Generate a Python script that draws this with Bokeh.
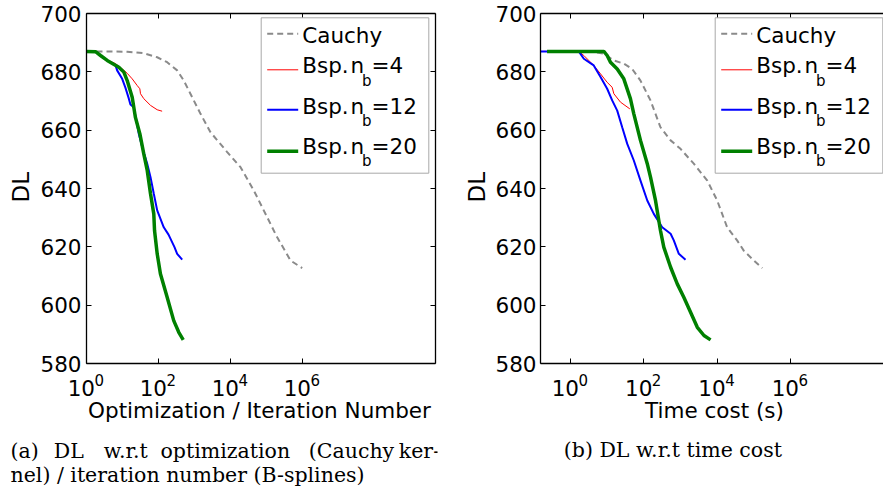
from math import pi
from bokeh.plotting import figure
from bokeh.models import (Range1d, FixedTicker, LinearAxis, LogAxis, Label,
                          BoxAnnotation, Arrow, CustomJSTickFormatter)
from bokeh.layouts import row
from bokeh.embed import file_html
from bokeh.resources import INLINE

# ---------------- data ----------------
y_ticks = [580, 600, 620, 640, 660, 680, 700]
x_tick_values = [1, 100, 1e4, 1e6]
x_tick_exponents = ["0", "2", "4", "6"]

# (a) DL vs optimization / iteration number
a_cauchy_x = [1, 4.6, 13.5, 39, 92, 174, 330, 505, 770, 1470, 2780, 8100, 19000,
              44500, 104000, 186000, 465000, 980000]
a_cauchy_y = [687.0, 687.0, 686.9, 686.4, 685.0, 683.3, 680.5, 677.0, 672.5, 665.6,
              659.3, 652.5, 647.3, 639.3, 630.2, 623.9, 615.3, 612.7]
a_nb4_x = [1, 1.78, 2.45, 3.76, 6.4, 9.8, 13.5, 18.6, 25.6, 30.3, 31.6, 39, 60, 92, 126]
a_nb4_y = [687.0, 686.9, 685.6, 684.1, 682.8, 681.0, 679.5, 677.6, 675.3, 674.2,
           672.5, 670.8, 668.5, 667.0, 666.5]
a_nb12_x = [1, 1.78, 2.45, 3.76, 6.4, 7.1, 9.8, 12.1, 15.0, 16.6, 20.5, 22.8, 28.3,
            35.2, 48.6, 60, 74, 92, 140, 190, 278, 330, 455]
a_nb12_y = [687.0, 686.9, 685.6, 683.9, 682.2, 680.5, 677.6, 674.5, 670.8, 668.8,
            667.9, 665.0, 658.8, 654.2, 648.5, 643.9, 638.2, 632.5, 626.7, 624.2,
            619.9, 617.6, 615.6]
a_nb20_x = [1, 1.78, 2.45, 3.76, 7.9, 10.9, 13.5, 18.6, 22.8, 30.3, 39, 48.6, 60, 74,
            77.6, 92, 113, 174, 265, 366, 487]
a_nb20_y = [687.0, 686.9, 685.6, 683.9, 681.6, 679.9, 677.0, 671.3, 664.4, 658.8,
            651.9, 646.2, 638.2, 631.3, 625.6, 617.6, 610.8, 602.7, 594.7, 590.7, 588.1]

# (b) DL vs time cost (s)
b_cauchy_x = [0.23, 3.5, 8.1, 15.2, 28.4, 48, 81, 152, 284, 537, 1000, 2300, 5370,
              10000, 18700, 35000, 53000, 100000, 170000]
b_cauchy_y = [687.0, 687.0, 686.2, 683.9, 682.8, 681.0, 677.0, 670.2, 661.0, 656.5,
              653.6, 648.5, 642.7, 635.9, 626.7, 622.2, 618.7, 615.3, 612.7]
b_nb4_x = [0.152, 1.68, 2.31, 4.3, 6.6, 10, 13.7, 15.2, 23.1, 41.5]
b_nb4_y = [687.0, 687.0, 685.6, 682.2, 679.3, 676.4, 674.7, 672.5, 669.6, 667.3]
b_nb12_x = [0.152, 1.68, 2.31, 4.3, 6.6, 10, 13.7, 18.8, 25.7, 35.3, 53.3, 81, 124,
            187, 317, 537, 656, 900, 1370]
b_nb12_y = [687.0, 687.0, 684.5, 682.2, 678.2, 674.2, 670.2, 666.7, 661.0, 655.3,
            649.6, 642.7, 635.9, 631.3, 626.7, 624.5, 622.2, 617.6, 615.6]
b_nb20_x = [0.23, 8.1, 10, 12.3, 18.8, 28.4, 43, 53.3, 81, 124, 152, 208, 284, 350,
            537, 815, 1230, 1790, 2870, 4360, 6600]
b_nb20_y = [687.0, 687.0, 685.6, 683.3, 681.0, 677.6, 670.8, 665.6, 656.5, 648.5,
            643.9, 635.9, 625.6, 619.9, 613.0, 607.3, 602.7, 598.2, 592.4, 589.6, 588.1]

legend_sizes = ["4", "12", "20"]

SANS = "DejaVu Sans"
SERIF = "DejaVu Serif"

STYLES = [
    dict(line_color="#8a8a8a", line_width=2, line_dash="6 4"),
    dict(line_color="#ff0000", line_width=1, line_dash="solid"),
    dict(line_color="#0000ff", line_width=2, line_dash="solid"),
    dict(line_color="#008000", line_width=3.5, line_dash="solid"),
]

H = 493
BORDER = 4
PLOT_TOP, PLOT_BOTTOM = 13, 363      # page px of y = 700 / y = 580
PX_PER_UNIT = (PLOT_BOTTOM - PLOT_TOP) / 120.0
FRAME_TOP, FRAME_BOTTOM = BORDER, H - BORDER
Y_HI = 700 + (PLOT_TOP - FRAME_TOP) / PX_PER_UNIT
Y_LO = 580 - (FRAME_BOTTOM - PLOT_BOTTOM) / PX_PER_UNIT
CAP_MID = 0.365   # cap-height centre, fraction of font size


def style_axis(ax):
    ax.major_tick_in = 5
    ax.major_tick_out = 0
    ax.minor_tick_in = 0
    ax.minor_tick_out = 0
    ax.axis_line_color = "black"
    ax.axis_line_width = 1.3
    ax.major_tick_line_color = "black"
    ax.major_tick_line_width = 1
    ax.formatter = CustomJSTickFormatter(code="return ''")
    ax.major_label_text_font_size = "1px"
    ax.major_label_standoff = 0
    ax.axis_label = None


def make_panel(series, fig_x0, fig_width, border_right, px0, px_dec,
               plot_left, plot_right, right_axis, xlabel, xlabel_cx,
               ytick_right, dl_x, captions):
    frame_left = fig_x0 + BORDER
    frame_right = fig_x0 + fig_width - border_right
    x_lo = 10 ** ((plot_left - px0) / px_dec)
    x_hi = 10 ** ((plot_right - px0) / px_dec)
    x_start = 10 ** ((frame_left - px0) / px_dec)
    x_end = 10 ** ((frame_right - px0) / px_dec)

    p = figure(width=fig_width, height=H, x_axis_type="log",
               x_range=Range1d(x_start, x_end), y_range=Range1d(Y_LO, Y_HI),
               output_backend="svg", toolbar_location=None, title=None,
               min_border_left=BORDER, min_border_right=border_right,
               min_border_top=BORDER, min_border_bottom=BORDER)
    p.grid.visible = False
    p.outline_line_color = None
    p.background_fill_color = "white"
    p.border_fill_color = "white"

    xax = p.xaxis[0]
    xax.ticker = FixedTicker(ticks=x_tick_values)
    style_axis(xax)
    xax.fixed_location = 580
    xax.bounds = (x_lo, x_hi)

    yax = p.yaxis[0]
    yax.ticker = FixedTicker(ticks=y_ticks)
    style_axis(yax)
    yax.fixed_location = x_lo
    yax.bounds = (580, 700)

    top = LogAxis(ticker=FixedTicker(ticks=x_tick_values))
    style_axis(top)
    top.fixed_location = 700
    top.bounds = (x_lo, x_hi)
    p.add_layout(top, "above")
    if right_axis:
        rax = LinearAxis(ticker=FixedTicker(ticks=y_ticks))
        style_axis(rax)
        rax.fixed_location = x_hi
        rax.bounds = (580, 700)
        p.add_layout(rax, "right")

    for (xs, ys), st in zip(series, STYLES):
        p.line(xs, ys, **st)

    def sx(X):
        return X - frame_left

    def sy(Y):
        return FRAME_BOTTOM - Y

    def lab(**kw):
        kw.setdefault("text_font", SANS)
        kw.setdefault("text_font_size", "21.5px")
        kw.setdefault("text_color", "black")
        kw.setdefault("text_baseline", "middle")
        p.add_layout(Label(**kw))

    def at_base(Y, fs):
        # screen y of the cap centre for a text whose baseline is at page px Y
        return sy(Y - CAP_MID * fs)

    # y tick labels
    for v in y_ticks:
        lab(x=sx(ytick_right), y=v, x_units="screen", y_units="data", text=str(v),
            text_align="right")
    # y axis label (rotated; baseline on the right side)
    lab(x=sx(dl_x - CAP_MID * 23), y=sy(186.7), x_units="screen", y_units="screen",
        text="DL", angle=pi / 2, text_align="center", text_font_size="23px")
    # x tick labels 10^k
    for v, e in zip(x_tick_values, x_tick_exponents):
        lab(x=v, y=at_base(395.7, 21.5), x_units="data", y_units="screen", text="10",
            text_align="right", x_offset=8.5)
        lab(x=v, y=at_base(385.0, 15), x_units="data", y_units="screen", text=e,
            text_align="left", x_offset=8.0, text_font_size="15px")
    # x axis label
    lab(x=sx(xlabel_cx), y=at_base(418.3, 21.5), x_units="screen", y_units="screen",
        text=xlabel, text_align="center")

    # legend
    lx = lambda X: sx(X - 86 + plot_left)
    p.add_layout(BoxAnnotation(left=lx(260.7), right=lx(428.3), top=sy(17.3), bottom=sy(172.7),
                               left_units="screen", right_units="screen",
                               top_units="screen", bottom_units="screen",
                               fill_color="white", fill_alpha=1.0,
                               line_color="#a8a8a8", line_alpha=1.0, line_width=1))
    sample_y = [33.3, 69.3, 109.3, 150.7]
    for yy, st in zip(sample_y, STYLES):
        p.add_layout(Arrow(x_start=lx(266.7), y_start=sy(yy), x_end=lx(297.7), y_end=sy(yy),
                           start_units="screen", end_units="screen", start=None, end=None,
                           line_color=st["line_color"], line_width=st["line_width"],
                           line_dash=st["line_dash"]))
    lab(x=lx(301.7), y=at_base(43.3, 21.5), x_units="screen", y_units="screen", text="Cauchy")
    base_y = [73.3, 114.0, 154.0]
    for by, nb in zip(base_y, legend_sizes):
        lab(x=lx(301.7), y=at_base(by, 21.5), x_units="screen", y_units="screen", text="Bsp.")
        lab(x=lx(350.0), y=at_base(by, 21.5), x_units="screen", y_units="screen", text="n")
        lab(x=lx(361.5), y=at_base(by + 12.3, 15), x_units="screen", y_units="screen",
            text="b", text_font_size="15px")
        lab(x=lx(371.0), y=at_base(by, 21.5), x_units="screen", y_units="screen",
            text="=" + nb)

    # captions
    for (txt, X, Y) in captions:
        lab(x=sx(X), y=at_base(Y, 20.5), x_units="screen", y_units="screen", text=txt,
            text_font=SERIF, text_font_size="20.5px")
    return p


caption_a1_words = ["(a)", "DL", "w.r.t", "optimization", "(Cauchy", "ker-"]
caption_a1_x = [10.0, 53.3, 103.3, 160.0, 308.3, 398.3]

left = make_panel(
    [(a_cauchy_x, a_cauchy_y), (a_nb4_x, a_nb4_y), (a_nb12_x, a_nb12_y), (a_nb20_x, a_nb20_y)],
    fig_x0=0, fig_width=441, border_right=BORDER, px0=86, px_dec=36.0,
    plot_left=86, plot_right=435, right_axis=True,
    xlabel="Optimization / Iteration Number", xlabel_cx=259,
    ytick_right=81, dl_x=28.5,
    captions=[(w, x, 458.3) for w, x in zip(caption_a1_words, caption_a1_x)]
             + [("nel) / iteration number (B-splines)", 10.0, 481.7)])

right = make_panel(
    [(b_cauchy_x, b_cauchy_y), (b_nb4_x, b_nb4_y), (b_nb12_x, b_nb12_y), (b_nb20_x, b_nb20_y)],
    fig_x0=441, fig_width=442, border_right=0, px0=570, px_dec=36.67,
    plot_left=540, plot_right=883, right_axis=False,
    xlabel="Time cost (s)", xlabel_cx=714,
    ytick_right=536, dl_x=484.5,
    captions=[("(b) DL w.r.t time cost", 563.3, 457.0)])

layout = row(left, right)
open("out.html", "w").write(file_html(layout, INLINE))
